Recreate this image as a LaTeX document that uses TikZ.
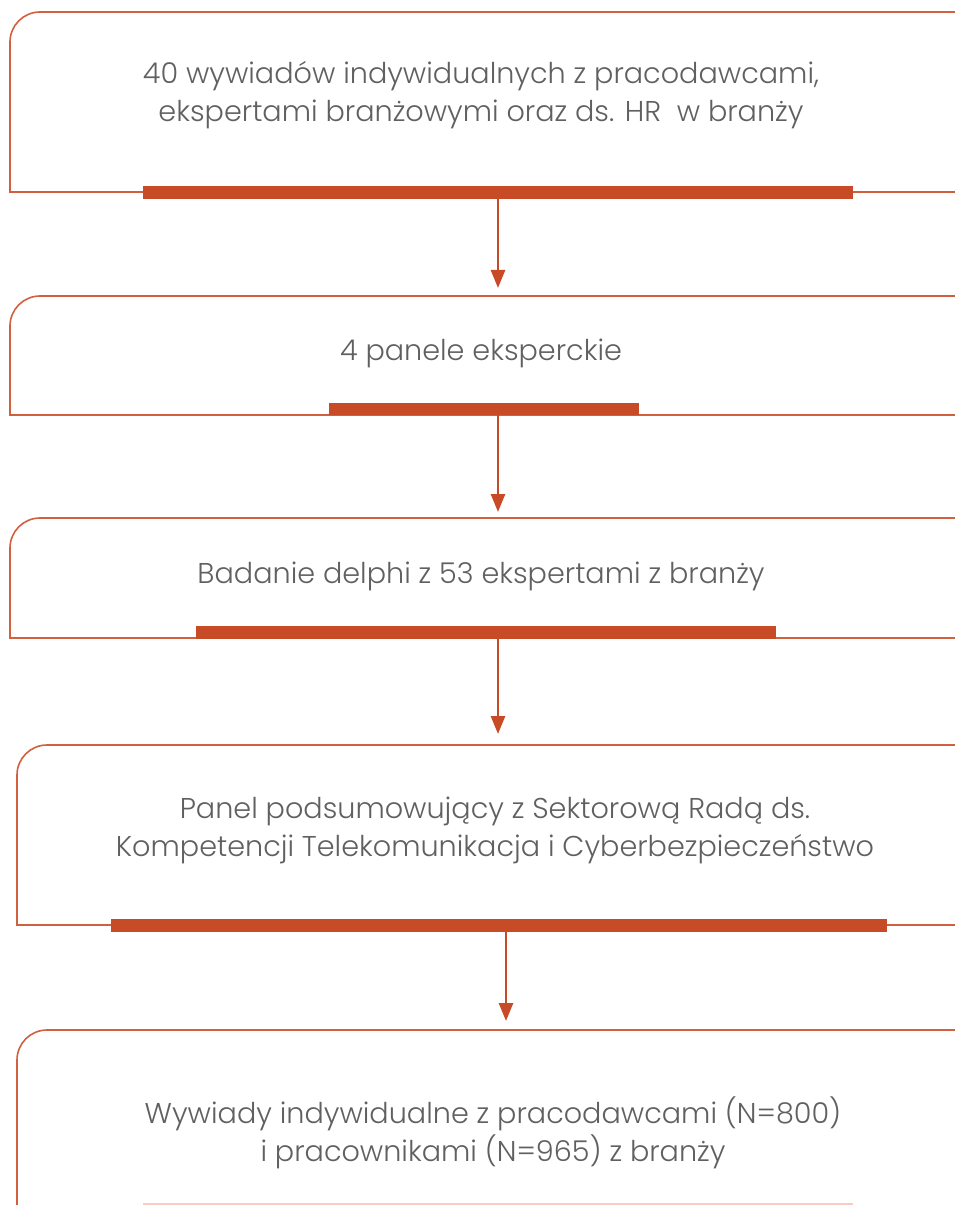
\documentclass[tikz,border=0pt]{standalone}
\usepackage{fontspec}
\setmainfont{Poppins}[UprightFont={* Light}]
\usetikzlibrary{arrows.meta}
\definecolor{rust}{HTML}{C84B27}
\definecolor{rustline}{HTML}{D0603E}
\definecolor{pinkbar}{HTML}{F6CDBE}
\definecolor{txt}{HTML}{606060}
\tikzset{
  boxline/.style={draw=rustline, line width=1.2pt},
  bar/.style={fill=rust, draw=none, inner sep=0pt, minimum height=9.75pt},
  arr/.style={draw=rust, line width=2pt, -{Triangle[width=10.5pt,length=13.5pt]}},
  label/.style={text=txt, font=\fontsize{21.5pt}{28.5pt}\selectfont, align=center, inner sep=0pt},
}
\begin{document}
\begin{tikzpicture}[x=0.75pt,y=-0.75pt]
\useasboundingbox (0,0) rectangle (955,1205);
\clip (0,0) rectangle (955,1205);
% box outlines
\draw[boxline] (956,12) -- (40,12) arc[start angle=90,end angle=180,radius=22.5pt] -- (10,192) -- (956,192);
\draw[boxline] (956,296) -- (40,296) arc[start angle=90,end angle=180,radius=22.5pt] -- (10,415) -- (956,415);
\draw[boxline] (956,518) -- (40,518) arc[start angle=90,end angle=180,radius=22.5pt] -- (10,638) -- (956,638);
\draw[boxline] (956,745) -- (47,745) arc[start angle=90,end angle=180,radius=22.5pt] -- (17,925) -- (956,925);
\draw[boxline] (956,1030) -- (47,1030) arc[start angle=90,end angle=180,radius=22.5pt] -- (17,1210);
% bars
\node[bar, minimum width=532.5pt] (bar1) at (498,192.5) {};
\node[bar, minimum width=232.5pt, minimum height=9pt] (bar2) at (484,409) {};
\node[bar, minimum width=435pt] (bar3) at (486,632) {};
\node[bar, minimum width=582pt] (bar4) at (499,925.5) {};
\node[fill=pinkbar, inner sep=0pt, minimum width=532.5pt, minimum height=7.5pt] (bar5) at (498,1208) {};
% texts
\node[label] (t1) at (481,95) {40 wywiadów indywidualnych z pracodawcami,\\ekspertami branżowymi oraz ds. HR\ \ w branży};
\node[label] (t2) at (481,353) {4 panele eksperckie};
\node[label] (t3) at (481,576) {Badanie delphi z 53 ekspertami z branży};
\node[label] (t4) at (495,830) {Panel podsumowujący z Sektorową Radą ds.\\Kompetencji Telekomunikacja i Cyberbezpieczeństwo};
\node[label] (t5) at (493,1133) {Wywiady indywidualne z pracodawcami (N=800)\\i pracownikami (N=965) z branży};
% arrow tips
\coordinate (a1) at (498,288);
\coordinate (a2) at (498,512);
\coordinate (a3) at (498,734);
\coordinate (a4) at (506,1021);
\draw[arr] (bar1.south -| a1) -- (a1);
\draw[arr] (bar2.south -| a2) -- (a2);
\draw[arr] (bar3.south -| a3) -- (a3);
\draw[arr] (bar4.south -| a4) -- (a4);
\end{tikzpicture}
\end{document}
